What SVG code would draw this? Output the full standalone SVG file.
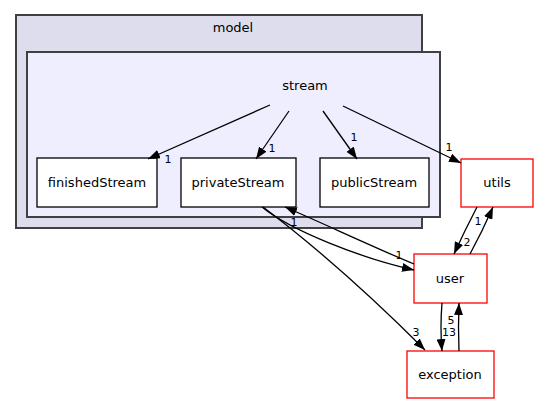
<svg xmlns="http://www.w3.org/2000/svg" width="539" height="404" viewBox="0 0 539 404">
<style>
.cl1{fill:#ddddee;stroke:#404040;stroke-width:2}
.cl2{fill:#eeeeff;stroke:#404040;stroke-width:2}
.nd{fill:#ffffff;stroke:#000000;stroke-width:1.3}
.rd{fill:#ffffff;stroke:#ff0000;stroke-width:1.3}
text{font-family:"DejaVu Sans","Liberation Sans",sans-serif;fill:#000}
.t{font-size:13px;text-anchor:middle}
.e{font-size:11px;text-anchor:middle}
.ed{fill:none;stroke:#000;stroke-width:1.3;marker-end:url(#ah)}
</style>
<defs>
<marker id="ah" viewBox="0 0 12 9" refX="12" refY="4.5" markerWidth="12" markerHeight="9" markerUnits="userSpaceOnUse" orient="auto">
<path d="M0,0 L12,4.5 L0,9 z" fill="#000"/>
</marker>
</defs>
<rect width="539" height="404" fill="#ffffff"/>
<g id="cluster_model">
<rect class="cl1" x="16" y="15" width="406" height="213"/>
<text class="t" x="233" y="32">model</text>
</g>
<g id="cluster_stream">
<rect class="cl2" x="27" y="52" width="413" height="165"/>
<text class="t" x="305" y="90">stream</text>
</g>
<g id="node_finishedStream">
<rect class="nd" x="37" y="158" width="120" height="49"/>
<text class="t" x="97" y="187">finishedStream</text>
</g>
<g id="node_privateStream">
<rect class="nd" x="181" y="158" width="115" height="49"/>
<text class="t" x="238" y="187">privateStream</text>
</g>
<g id="node_publicStream">
<rect class="nd" x="320" y="158" width="109" height="49"/>
<text class="t" x="374" y="187">publicStream</text>
</g>
<g id="node_utils">
<rect class="rd" x="461" y="159" width="72" height="48"/>
<text class="t" x="497" y="187">utils</text>
</g>
<g id="node_user">
<rect class="rd" x="414" y="254" width="73" height="49"/>
<text class="t" x="450" y="283">user</text>
</g>
<g id="node_exception">
<rect class="rd" x="407" y="351" width="87" height="47"/>
<text class="t" x="450" y="379">exception</text>
</g>
<g id="connectors">
<path class="ed" d="M270,105 L148,159"/>
<text class="e" x="168" y="163">1</text>
<path class="ed" d="M289,111 L256,159"/>
<text class="e" x="272" y="152">1</text>
<path class="ed" d="M323,111 L357,159"/>
<text class="e" x="354" y="141">1</text>
<path class="ed" d="M343,106 L461,163"/>
<text class="e" x="449" y="151">1</text>
<path class="ed" d="M262,207 C290,230 360,258 414,270"/>
<text class="e" x="399" y="259">1</text>
<path class="ed" d="M414,264 C380,250 320,222 285,207"/>
<text class="e" x="294" y="226">1</text>
<path class="ed" d="M263,207 Q340,265 425,350"/>
<text class="e" x="416" y="336">3</text>
<path class="ed" d="M477,207 Q465,230 454,254"/>
<text class="e" x="467" y="246">2</text>
<path class="ed" d="M470,254 Q482,232 493,207"/>
<text class="e" x="478" y="225">1</text>
<path class="ed" d="M442,303 Q440,327 442,351"/>
<text class="e" x="449" y="336">13</text>
<path class="ed" d="M459,351 Q458,327 459,303"/>
<text class="e" x="451" y="324">5</text>
</g>
</svg>
